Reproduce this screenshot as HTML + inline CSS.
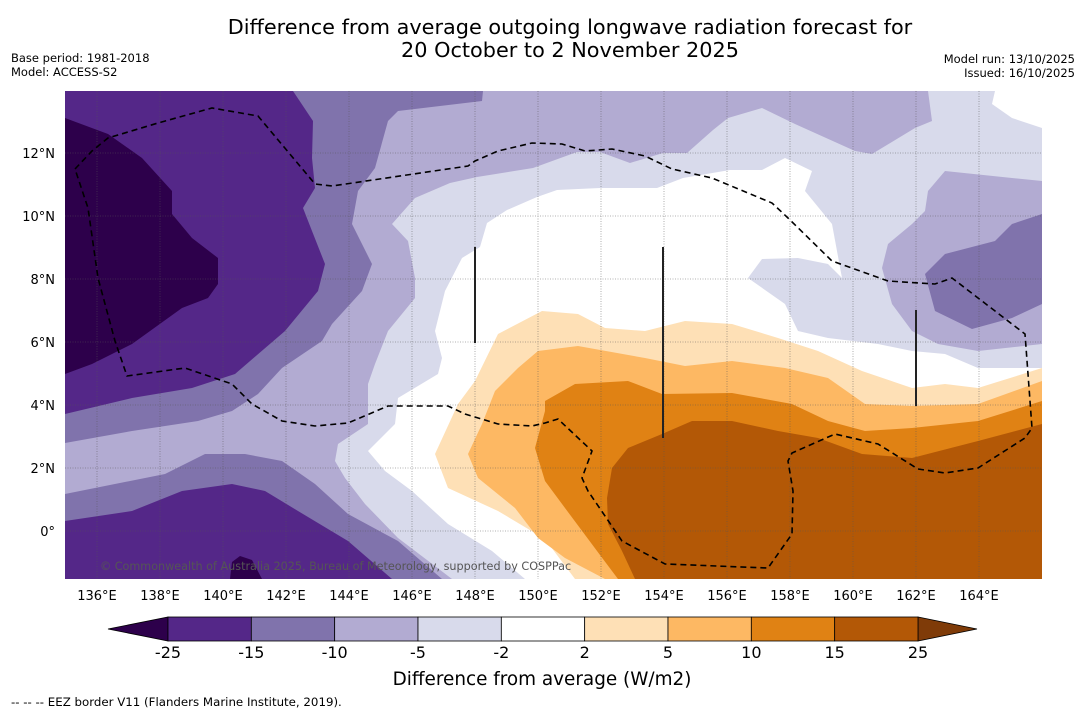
<!DOCTYPE html>
<html><head><meta charset="utf-8"><style>
body{margin:0;background:#fff;font-family:"Liberation Sans","DejaVu Sans",sans-serif}
</style></head><body>
<svg width="1085" height="713" viewBox="0 0 1085 713" xmlns="http://www.w3.org/2000/svg" font-family="DejaVu Sans, Liberation Sans, sans-serif">
<text x="570" y="34" font-size="20.8" text-anchor="middle">Difference from average outgoing longwave radiation forecast for</text>
<text x="570" y="57" font-size="20.8" text-anchor="middle">20 October to 2 November 2025</text>
<text x="11" y="62" font-size="11.5">Base period: 1981-2018</text>
<text x="11" y="76" font-size="11.5">Model: ACCESS-S2</text>
<text x="1075" y="63" font-size="11.5" text-anchor="end">Model run: 13/10/2025</text>
<text x="1075" y="77" font-size="11.5" text-anchor="end">Issued: 16/10/2025</text>
<defs><clipPath id="pc"><rect x="65" y="91" width="977" height="488"/></clipPath></defs>
<g clip-path="url(#pc)">
<rect x="65" y="91" width="977" height="488" fill="#b2abd2"/>
<polygon fill="#8073ac" points="65,91 483,91 482,101 398,111 388,121 375,168 358,191 352,224 372,264 362,291 332,324 322,341 282,368 258,394 232,411 198,421 132,431 65,443"/>
<polygon fill="#8073ac" points="65,494 165,474 205,454 245,454 282,461 315,484 348,514 398,541 442,579 65,579"/>
<polygon fill="#542788" points="65,521 132,511 182,491 232,484 265,491 298,511 348,541 392,579 65,579"/>
<polygon fill="#2d004b" points="232,562 240,556 252,560 262,579 230,579"/>
<polygon fill="#542788" points="65,91 293,91 313,121 312,158 315,188 303,208 312,231 325,264 318,291 285,331 235,374 192,388 132,398 65,414"/>
<polygon fill="#2d004b" points="65,118 108,134 142,158 172,191 172,214 192,238 218,258 218,284 208,298 182,308 132,344 92,364 65,374"/>
<polygon fill="#d8daeb" points="415,198 450,183 477,177 533,168 577,152 600,152 630,163 663,153 687,153 713,130 728,118 762,108 795,124 855,151 872,154 915,128 932,121 928,91 1042,91 1042,579 452,579 398,538 365,504 345,478 335,461 338,444 368,424 368,384 375,364 388,331 415,298 415,278 408,241 392,224"/>
<polygon fill="#b2abd2" points="1042,181 1012,178 945,171 928,191 925,211 912,224 888,244 882,268 892,304 912,331 938,344 978,351 1042,344"/>
<polygon fill="#8073ac" points="1042,214 1012,224 995,241 945,254 925,274 935,311 972,329 1012,318 1042,304"/>
<polygon fill="#ffffff" points="995,91 992,104 1012,118 1042,128 1042,91"/>
<polygon fill="#ffffff" points="537,197 557,190 600,188 657,188 683,178 730,170 762,170 785,158 812,171 805,191 832,224 842,278 828,264 798,258 762,259 748,278 785,304 798,331 828,338 878,344 912,351 945,354 978,368 1042,368 1042,579 525,579 492,551 448,524 412,491 385,471 368,451 395,424 398,398 438,374 442,358 435,331 445,291 462,258 480,247 487,223 507,210"/>
<polygon fill="#fee0b6" points="542,311 578,314 605,328 645,331 685,321 732,324 778,338 818,351 862,371 912,388 945,384 978,388 1042,368 1042,579 575,579 545,539 498,511 448,488 435,454 458,404 475,381 498,334"/>
<polygon fill="#fdb863" points="538,351 578,346 645,358 685,366 732,361 785,368 828,378 865,404 912,406 978,404 1042,381 1042,579 605,579 565,558 538,538 515,508 478,478 468,454 482,424 495,391 518,368"/>
<polygon fill="#e08214" points="545,401 575,384 628,381 662,394 732,393 792,404 828,421 865,431 912,428 978,421 1042,401 1042,579 618,579 600,555 565,508 545,481 535,448 545,411"/>
<polygon fill="#b35806" points="1042,424 978,441 912,458 862,454 818,438 778,431 732,421 692,421 662,434 628,448 612,468 607,498 608,524 622,551 635,579 1042,579"/>
<g id="grid" stroke="#555" stroke-width="0.8" stroke-dasharray="1,1.5" opacity="0.6"></g>
<path fill="none" stroke="#000" stroke-width="1.6" stroke-dasharray="6,4" d="M75,169 L92,151 108,138 158,123 212,108 258,116 315,184 332,186 468,166 475,161 498,151 532,143 562,144 585,151 612,149 645,156 672,169 712,178 772,203 788,218 832,261 888,281 935,284 952,278 1025,334 1028,374 1032,428 1025,438 978,468 945,473 918,469 878,444 835,434 792,453 788,461 793,491 792,534 768,568 665,564 622,541 588,491 582,478 592,451 558,419 545,423 532,426 498,424 465,414 448,406 388,406 348,423 315,426 282,421 252,404 232,384 185,368 127,376 115,341 98,278 88,208 Z"/>
<line x1="475" y1="247" x2="475" y2="343" stroke="#222" stroke-width="2"/>
<line x1="663" y1="247" x2="663" y2="438" stroke="#222" stroke-width="2"/>
<line x1="916" y1="310" x2="916" y2="406" stroke="#222" stroke-width="2"/>
<text x="100" y="570" font-size="11.2" fill="#555">© Commonwealth of Australia 2025, Bureau of Meteorology, supported by COSPPac</text>
</g>
<g id="axes"></g>
<g id="cbar"></g>
<text x="542" y="685" font-size="18.4" text-anchor="middle">Difference from average (W/m2)</text>
<text x="11" y="706" font-size="11.8">-- -- -- EEZ border V11 (Flanders Marine Institute, 2019).</text>
</svg>
<script>
const lonTicks=[136,138,140,142,144,146,148,150,152,154,156,158,160,162,164];
const latTicks=[12,10,8,6,4,2,0];
const levels=[-25,-15,-10,-5,-2,2,5,10,15,25];
const bandColors=["#542788","#8073ac","#b2abd2","#d8daeb","#ffffff","#fee0b6","#fdb863","#e08214","#b35806"];
const lowColor="#2d004b", highColor="#7f3b08";
const NS="http://www.w3.org/2000/svg";
const xLon=l=>97+(l-136)*31.5;
const yLat=l=>531-l*31.5;
function mk(tag,attrs,parent){const e=document.createElementNS(NS,tag);for(const k in attrs)e.setAttribute(k,attrs[k]);parent.appendChild(e);return e;}
const grid=document.getElementById('grid'),axes=document.getElementById('axes'),cbar=document.getElementById('cbar');
lonTicks.forEach(l=>{
  const g=mk('line',{x1:xLon(l),x2:xLon(l),y1:91,y2:579},grid);
  
  
  const t=mk('text',{x:xLon(l),y:600,'font-size':13,'text-anchor':'middle'},axes);
  t.textContent=l+'°E';
  
  
});
latTicks.forEach(l=>{
  const g=mk('line',{x1:65,x2:1042,y1:yLat(l),y2:yLat(l)},grid);
  
  
  const t=mk('text',{x:55,y:yLat(l)+5,'font-size':13,'text-anchor':'end'},axes);
  t.textContent=l===0?'0°':l+'°N';
  
  
});
const cx0=168,cx1=918,cy=617,ch=24;
const step=(cx1-cx0)/(levels.length-1);
const cX=i=>cx0+i*step;
const lt=mk('polygon',{points:`108,${cy+ch/2} ${cx0},${cy} ${cx0},${cy+ch}`,fill:lowColor,stroke:'#000','stroke-width':0.8},cbar);


const rt=mk('polygon',{points:`977,${cy+ch/2} ${cx1},${cy} ${cx1},${cy+ch}`,fill:highColor,stroke:'#000','stroke-width':0.8},cbar);


bandColors.forEach((c,i)=>{
  const r=mk('rect',{x:cX(i),y:cy,width:step,height:ch,fill:c,stroke:'#000','stroke-width':0.8},cbar);
  
  
});
levels.forEach((v,i)=>{
  const t=mk('text',{x:cX(i),y:658,'font-size':16,'text-anchor':'middle'},cbar);
  t.textContent=v;
  
  
});
</script>
</body></html>
